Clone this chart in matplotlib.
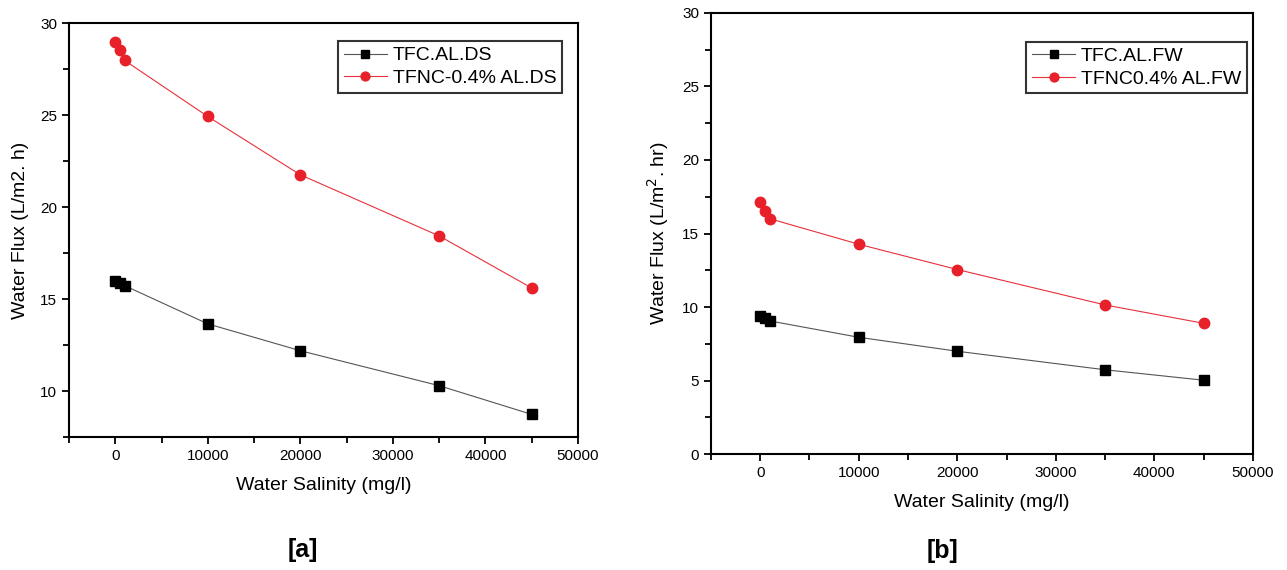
import matplotlib
matplotlib.use("Agg")
import matplotlib.pyplot as plt
from matplotlib.ticker import MultipleLocator

plt.rcParams['font.family'] = ['Liberation Sans', 'DejaVu Sans']

salinity = [0, 500, 1000, 10000, 20000, 35000, 45000]

# Panel [a]
tfc_ds = [16.0, 15.89, 15.73, 13.65, 12.19, 10.29, 8.73]
tfnc_ds = [28.95, 28.55, 27.97, 24.92, 21.75, 18.43, 15.6]

# Panel [b]
tfc_fw = [9.39, 9.23, 9.05, 7.94, 6.99, 5.73, 5.02]
tfnc_fw = [17.14, 16.51, 16.0, 14.27, 12.55, 10.14, 8.89]

labels_a = ["TFC.AL.DS", "TFNC-0.4% AL.DS"]
labels_b = ["TFC.AL.FW", "TFNC0.4% AL.FW"]

fig = plt.figure(figsize=(12.87, 5.70), dpi=100)
ax_a = fig.add_axes([0.0536, 0.2333, 0.3955, 0.7263])
ax_b = fig.add_axes([0.5524, 0.2035, 0.4211, 0.7737])


def style(ax, ylim, ymajor, yminor, ylabel, leg_anchor, labels, ys):
    black, red = ys
    ax.plot(salinity, black, color='#555555', lw=0.8, marker='s', ms=6.5,
            mfc='black', mec='black', label=labels[0])
    ax.plot(salinity, red, color='#e8313a', lw=0.8, marker='o', ms=7.5,
            mfc='#e8202a', mec='#e8202a', label=labels[1])
    ax.set_xlim(-5000, 50000)
    ax.set_ylim(*ylim)
    ax.xaxis.set_major_locator(MultipleLocator(10000))
    ax.xaxis.set_minor_locator(MultipleLocator(5000))
    ax.yaxis.set_major_locator(MultipleLocator(ymajor))
    ax.yaxis.set_minor_locator(MultipleLocator(yminor))
    ax.set_xticks([0, 10000, 20000, 30000, 40000, 50000])
    ax.tick_params(which='both', direction='out', top=False, right=False,
                   width=1.3, labelsize=11, colors='black')
    ax.tick_params(which='major', length=5)
    ax.tick_params(which='minor', length=4)
    for s in ax.spines.values():
        s.set_linewidth(1.5)
    ax.set_xlabel("Water Salinity (mg/l)", fontsize=14, labelpad=10)
    ax.set_ylabel(ylabel, fontsize=14, labelpad=8)
    leg = ax.legend(loc='upper right', bbox_to_anchor=leg_anchor,
                    fontsize=14, frameon=True, fancybox=False,
                    edgecolor='black', handlelength=2.2, borderpad=0.3,
                    labelspacing=0.25, handletextpad=0.3, borderaxespad=0,
                    markerscale=0.85)
    leg.get_frame().set_linewidth(1.5)


style(ax_a, (7.5, 30), 5, 2.5, "Water Flux (L/m2. h)", (0.9686, 0.9565),
      labels_a, (tfc_ds, tfnc_ds))
style(ax_b, (0, 30), 5, 2.5, r"Water Flux (L/m$^2$. hr)", (0.989, 0.935),
      labels_b, (tfc_fw, tfnc_fw))

fig.text(303 / 1287, 1 - 550 / 570, "[a]", ha='center', va='center',
         fontsize=18, fontweight='bold')
fig.text(942 / 1287, 1 - 551 / 570, "[b]", ha='center', va='center',
         fontsize=18, fontweight='bold')

fig.savefig("out.png", dpi=100)
